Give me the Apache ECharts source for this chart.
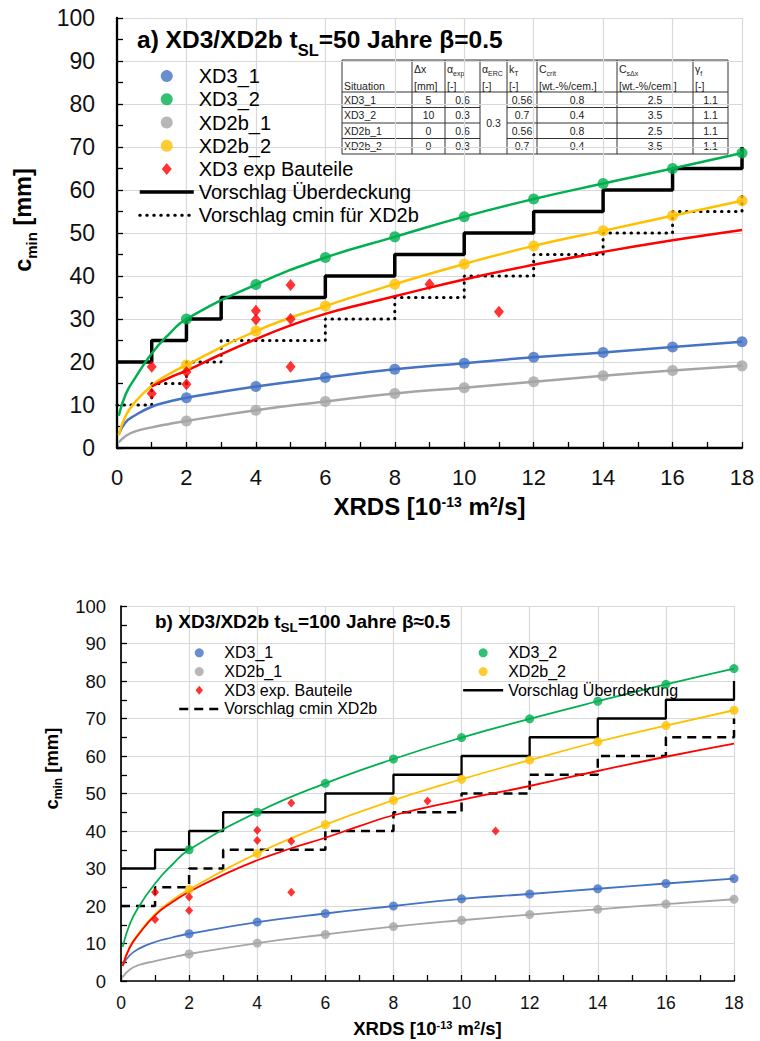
<!DOCTYPE html>
<html>
<head>
<meta charset="utf-8">
<script src="https://cdn.jsdelivr.net/npm/echarts@6/dist/echarts.min.js"></script>
<style>
html,body{margin:0;padding:0;background:#fff;}
#c{width:760px;height:1041px;}
</style>
</head>
<body>
<div id="c"></div>
<script>
// ---------------- DATA ----------------
// x positions of the plotted markers and of the curve support points
const markX  = [2, 4, 6, 8, 10, 12, 14, 16, 18];
const curveX = [0.05, 0.25, 0.5, 1, 1.5, 2, 4, 6, 8, 10, 12, 14, 16, 18];

// Panel a) t_SL = 50 Jahre
const a_XD3_1  = [11.7, 14.3, 16.4, 18.3, 19.7, 21.1, 22.2, 23.5, 24.7];
const a_XD3_2  = [30.0, 38.0, 44.3, 49.1, 53.8, 57.9, 61.5, 65.0, 68.6];
const a_XD2b_1 = [6.3, 8.8, 10.8, 12.7, 14.0, 15.4, 16.8, 18.0, 19.1];
const a_XD2b_2 = [19.3, 27.2, 33.0, 38.1, 42.8, 47.0, 50.5, 54.0, 57.5];
const a_XD3_1_curve  = [3.2, 6.0, 7.5, 9.6, 10.8, 11.7, 14.3, 16.4, 18.3, 19.7, 21.1, 22.2, 23.5, 24.7];
const a_XD3_2_curve  = [7.5, 12.5, 16.0, 22.0, 26.5, 30.0, 38.0, 44.3, 49.1, 53.8, 57.9, 61.5, 65.0, 68.6];
const a_XD2b_1_curve = [1.3, 2.8, 3.8, 4.8, 5.6, 6.3, 8.8, 10.8, 12.7, 14.0, 15.4, 16.8, 18.0, 19.1];
const a_XD2b_2_curve = [3.0, 7.5, 10.5, 14.5, 17.2, 19.3, 27.2, 33.0, 38.1, 42.8, 47.0, 50.5, 54.0, 57.5];
const a_fitX = [1, 1.5, 2, 3, 4, 5, 6, 7, 8, 10, 12, 14, 16, 18];
const a_fitY = [14.3, 16.3, 18.0, 21.8, 25.3, 28.5, 31.2, 33.3, 35.3, 39.2, 42.6, 45.6, 48.3, 50.7];
const a_expX = [1, 1, 2, 2, 4, 4, 5, 5, 5, 9, 11];
const a_expY = [18.9, 12.7, 17.7, 14.8, 31.9, 29.9, 37.9, 30.0, 18.9, 38.1, 31.7];
const stepX = [0, 1, 2, 3, 6, 8, 10, 12, 14, 16, 18];
const a_coverY = [20, 25, 30, 35, 40, 45, 50, 55, 60, 65, 70];
const a_cminY  = [10, 15, 20, 25, 30, 35, 40, 45, 50, 55, 60];

// Panel b) t_SL = 100 Jahre
const b_XD3_1  = [12.6, 15.7, 18.0, 20.0, 21.9, 23.2, 24.6, 26.0, 27.3];
const b_XD3_2  = [35.0, 45.0, 52.7, 59.2, 64.9, 69.9, 74.6, 79.1, 83.3];
const b_XD2b_1 = [7.2, 10.1, 12.4, 14.5, 16.2, 17.7, 19.1, 20.5, 21.8];
const b_XD2b_2 = [24.4, 34.0, 41.7, 48.2, 53.8, 58.9, 63.8, 68.1, 72.2];
const b_XD3_1_curve  = [4.2, 6.8, 8.5, 10.4, 11.6, 12.6, 15.7, 18.0, 20.0, 21.9, 23.2, 24.6, 26.0, 27.3];
const b_XD3_2_curve  = [9.1, 15.0, 19.5, 26.0, 31.0, 35.0, 45.0, 52.7, 59.2, 64.9, 69.9, 74.6, 79.1, 83.3];
const b_XD2b_1_curve = [1.0, 3.0, 4.2, 5.3, 6.3, 7.2, 10.1, 12.4, 14.5, 16.2, 17.7, 19.1, 20.5, 21.8];
const b_XD2b_2_curve = [4.2, 9.0, 12.5, 17.8, 21.5, 24.4, 34.0, 41.7, 48.2, 53.8, 58.9, 63.8, 68.1, 72.2];
const b_fitX = [0.05, 0.25, 0.5, 1, 1.5, 2, 3, 4, 5, 6, 7, 8, 10, 12, 14, 16, 18];
const b_fitY = [4.0, 8.8, 12.2, 17.5, 21.0, 23.8, 28.3, 32.2, 35.4, 38.2, 41.3, 44.2, 48.3, 52.0, 56.0, 59.8, 63.3];
const b_expX = [1, 1, 2, 2, 4, 4, 5, 5, 5, 9, 11];
const b_expY = [23.7, 16.4, 22.4, 18.8, 40.2, 37.5, 47.5, 37.3, 23.7, 48.0, 40.0];
const b_coverY = [30, 35, 40, 45, 50, 55, 60, 65, 70, 75, 80];
const b_cminY  = [20, 25, 30, 35, 40, 45, 50, 55, 60, 65, 70];

// Table in panel a)
const tblHead1 = [['', ''], ['Δx', ''], ['α', 'exp'], ['α', 'ERC'], ['k', 'T'], ['C', 'crit'], ['C', 'sΔx'], ['γ', 'f']];
const tblHead2 = ['Situation', '[mm]', '[-]', '[-]', '[-]', '[wt.-%/cem.]', '[wt.-%/cem.]', '[-]'];
const tblRows = [
  ['XD3_1',  '5',  '0.6', '0.56', '0.8', '2.5', '1.1'],
  ['XD3_2',  '10', '0.3', '0.7',  '0.4', '3.5', '1.1'],
  ['XD2b_1', '0',  '0.6', '0.56', '0.8', '2.5', '1.1'],
  ['XD2b_2', '0',  '0.3', '0.7',  '0.4', '3.5', '1.1']
];
const tblMerged = '0.3';

// ---------------- STYLE / BUILD ----------------
const FF = "'Liberation Sans', Arial, Helvetica, sans-serif";
const BLUE = '#4472C4', GREEN = '#00B050', GRAY = '#A5A5A5', YELLOW = '#FFC000', RED = '#FF0000';
const DIAMOND = 'path://M5 0 L10 6 L5 12 L0 6 Z';
const xy = (xs, ys) => xs.map((x, i) => [x, ys[i]]);

function curve(name, xs, ys, color, w, gi) {
  return { type: 'line', name: name, xAxisIndex: gi, yAxisIndex: gi, data: xy(xs, ys),
    smooth: 0.5, symbol: 'none', silent: true, z: 3,
    lineStyle: { color: color, width: w } };
}
function marks(name, ys, color, size, gi) {
  return { type: 'scatter', name: name, xAxisIndex: gi, yAxisIndex: gi, data: xy(markX, ys),
    symbol: 'circle', symbolSize: size, z: 4, itemStyle: { color: color } };
}
function diamonds(name, xs, ys, size, gi) {
  return { type: 'scatter', name: name, xAxisIndex: gi, yAxisIndex: gi, data: xy(xs, ys),
    symbol: DIAMOND, symbolSize: size, z: 5, itemStyle: { color: RED } };
}
function steps(name, ys, w, type, cap, gi) {
  return { type: 'line', name: name, xAxisIndex: gi, yAxisIndex: gi, data: xy(stepX, ys),
    step: 'end', symbol: 'none', z: 2, itemStyle: { color: 'rgba(0,0,0,0)' },
    lineStyle: { color: '#000', width: w, type: type, cap: cap } };
}

// subscript rich set: main tokens top-aligned, sub tokens bottom-aligned in a taller line
function richSub(main, sub, shift, weight, color) {
  const mainLH = Math.round(main * 1.2);
  const L = 0.6 * main + shift + 0.6 * sub;
  return {
    b: { fontSize: main, fontWeight: weight, fontFamily: FF, color: color || '#000', lineHeight: mainLH, verticalAlign: 'top' },
    s: { fontSize: sub, fontWeight: weight, fontFamily: FF, color: color || '#000', lineHeight: L, verticalAlign: 'bottom' }
  };
}
// superscript rich set (padding trick)
function richSup(main, sub, up, weight) {
  const lh = Math.round(main * 1.2);
  return {
    b: { fontSize: main, fontWeight: weight, fontFamily: FF, color: '#000', lineHeight: lh, verticalAlign: 'middle' },
    s: { fontSize: sub, fontWeight: weight, fontFamily: FF, color: '#000', lineHeight: lh, verticalAlign: 'middle', padding: [0, 0, 2 * up, 0] }
  };
}

function xAxisDef(gi, lblSize, margin, nameSize, nameGap, up, axW) {
  return {
    gridIndex: gi, type: 'value', min: 0, max: 18, interval: 2,
    axisLine: { show: true, onZero: false, lineStyle: { color: '#000', width: axW } },
    axisTick: { show: true, inside: true, length: 6, lineStyle: { color: '#000', width: 1.3 } },
    minorTick: { show: true, splitNumber: 2, length: 6, lineStyle: { color: '#000', width: 1.3 } },
    splitLine: { show: true, lineStyle: { color: '#d9d9d9', width: 1.2 } },
    axisLabel: { fontSize: lblSize, fontFamily: FF, color: '#111', margin: margin },
    name: '{b|XRDS [10}{s|-13}{b| m}{s|2}{b|/s]}',
    nameLocation: 'middle', nameGap: nameGap,
    nameTextStyle: { rich: richSup(nameSize, Math.round(nameSize * 0.6), up, 'bold') }
  };
}
function yAxisDef(gi, lblSize, margin, nameSize, nameGap, shift, subShift, axW) {
  return {
    gridIndex: gi, type: 'value', min: 0, max: 100, interval: 10,
    axisLine: { show: true, onZero: false, lineStyle: { color: '#000', width: axW } },
    axisTick: { show: true, inside: true, length: 6, lineStyle: { color: '#000', width: 1.3 } },
    minorTick: { show: true, splitNumber: 2, length: 6, lineStyle: { color: '#000', width: 1.3 } },
    splitLine: { show: true, lineStyle: { color: '#d9d9d9', width: 1.2 } },
    axisLabel: { fontSize: lblSize, fontFamily: FF, color: '#111', margin: margin },
    name: '{b|c}{s|min}{b| [mm]}',
    nameLocation: 'middle', nameRotate: 90, nameGap: nameGap,
    nameTextStyle: { padding: [0, 0, 0, shift], rich: richSub(nameSize, Math.round(nameSize * 0.65), subShift, 'bold') }
  };
}

// table graphic
function tableGraphic() {
  const TC = [342, 412, 445, 480, 507, 537, 617, 693, 728];
  const TR = [60, 92, 107.5, 123, 138.5, 154];
  const els = [];
  const lineC = '#333';
  els.push({ type: 'rect', shape: { x: TC[0], y: TR[0], width: TC[8] - TC[0], height: TR[5] - TR[0] },
    style: { fill: '#fff', stroke: lineC, lineWidth: 1 } });
  for (let i = 1; i < 8; i++) {
    els.push({ type: 'line', shape: { x1: TC[i], y1: TR[0], x2: TC[i], y2: TR[5] }, style: { stroke: lineC, lineWidth: 1 } });
  }
  els.push({ type: 'line', shape: { x1: TC[0], y1: TR[1], x2: TC[8], y2: TR[1] }, style: { stroke: lineC, lineWidth: 1 } });
  for (let r = 2; r <= 4; r++) {
    els.push({ type: 'line', shape: { x1: TC[0], y1: TR[r], x2: TC[3], y2: TR[r] }, style: { stroke: lineC, lineWidth: 1 } });
    els.push({ type: 'line', shape: { x1: TC[4], y1: TR[r], x2: TC[8], y2: TR[r] }, style: { stroke: lineC, lineWidth: 1 } });
  }
  const fs = 10.5;
  const r0 = richSub(fs, 7, 3, 'normal', '#222');
  const rich = { m: Object.assign({}, r0.b, { fill: '#222' }), s: Object.assign({}, r0.s, { fill: '#222' }) };
  tblHead1.forEach((h, i) => {
    if (!h[0]) return;
    const txt = h[1] ? '{m|' + h[0] + '}{s|' + h[1] + '}' : '{m|' + h[0] + '}';
    els.push({ type: 'text', x: TC[i] + 2, y: 70, style: { text: txt, rich: rich, align: 'left', verticalAlign: 'middle' } });
  });
  tblHead2.forEach((h, i) => {
    els.push({ type: 'text', x: TC[i] + 2, y: 85.5, style: { text: h, fontSize: fs, fontFamily: FF, fill: '#222', align: 'left', verticalAlign: 'middle' } });
  });
  const colMap = [0, 1, 2, 4, 5, 6, 7];
  tblRows.forEach((row, r) => {
    const yc = (TR[r + 1] + TR[r + 2]) / 2;
    row.forEach((v, k) => {
      const c = colMap[k];
      const left = c === 0;
      els.push({ type: 'text', x: left ? TC[0] + 2 : (TC[c] + TC[c + 1]) / 2, y: yc,
        style: { text: v, fontSize: fs, fontFamily: FF, fill: '#222', align: left ? 'left' : 'center', verticalAlign: 'middle' } });
    });
  });
  els.push({ type: 'text', x: (TC[3] + TC[4]) / 2, y: (TR[1] + TR[5]) / 2,
    style: { text: tblMerged, fontSize: fs, fontFamily: FF, fill: '#222', align: 'center', verticalAlign: 'middle' } });
  return { type: 'group', z: 100, children: els };
}

const series = [
  // panel a
  steps('Vorschlag Überdeckung', a_coverY, 3.5, 'solid', 'butt', 0),
  steps('Vorschlag cmin für XD2b', a_cminY, 3, [0.5, 6.5], 'round', 0),
  curve('a_fit_XD3_1', curveX, a_XD3_1_curve, BLUE, 2.5, 0),
  curve('a_fit_XD3_2', curveX, a_XD3_2_curve, GREEN, 2.5, 0),
  curve('a_fit_XD2b_1', curveX, a_XD2b_1_curve, GRAY, 2.5, 0),
  curve('a_fit_XD2b_2', curveX, a_XD2b_2_curve, YELLOW, 2.5, 0),
  curve('a_fit_exp', a_fitX, a_fitY, RED, 2.5, 0),
  marks('XD3_1', a_XD3_1, BLUE, 11, 0),
  marks('XD3_2', a_XD3_2, GREEN, 11, 0),
  marks('XD2b_1', a_XD2b_1, GRAY, 11, 0),
  marks('XD2b_2', a_XD2b_2, YELLOW, 11, 0),
  diamonds('XD3 exp Bauteile', a_expX, a_expY, [10, 12], 0),
  // panel b
  steps('Vorschlag Überdeckung', b_coverY, 2.3, 'solid', 'butt', 1),
  steps('Vorschlag cmin XD2b', b_cminY, 2.5, [9, 6], 'butt', 1),
  curve('b_fit_XD3_1', curveX, b_XD3_1_curve, BLUE, 1.8, 1),
  curve('b_fit_XD3_2', curveX, b_XD3_2_curve, GREEN, 1.8, 1),
  curve('b_fit_XD2b_1', curveX, b_XD2b_1_curve, GRAY, 1.8, 1),
  curve('b_fit_XD2b_2', curveX, b_XD2b_2_curve, YELLOW, 1.8, 1),
  curve('b_fit_exp', b_fitX, b_fitY, RED, 1.8, 1),
  marks('XD3_1', b_XD3_1, BLUE, 9, 1),
  marks('XD3_2', b_XD3_2, GREEN, 9, 1),
  marks('XD2b_1', b_XD2b_1, GRAY, 9, 1),
  marks('XD2b_2', b_XD2b_2, YELLOW, 9, 1),
  diamonds('XD3 exp. Bauteile', b_expX, b_expY, [8, 9], 1)
];

const option = {
  animation: false,
  backgroundColor: '#fff',
  title: [
    { left: 137, top: 27.3, padding: 0,
      text: '{b|a) XD3/XD2b t}{s|SL}{b|=50 Jahre β=0.5}',
      textStyle: { rich: richSub(24.5, 16.5, 6.5, 'bold') } },
    { left: 155, top: 611.6, padding: 0,
      text: '{b|b) XD3/XD2b t}{s|SL}{b|=100 Jahre β≈0.5}',
      textStyle: { rich: richSub(19, 13.5, 3.5, 'bold') } }
  ],
  grid: [
    { left: 117, top: 18, width: 625, height: 430, containLabel: false, outerBoundsMode: 'none' },
    { left: 121, top: 606, width: 613, height: 375, containLabel: false, outerBoundsMode: 'none' }
  ],
  xAxis: [ xAxisDef(0, 22, 18, 24, 44, 5, 2.3), xAxisDef(1, 17.5, 13, 18.5, 36.5, 4, 1.7) ],
  yAxis: [ yAxisDef(0, 23, 22, 23.5, 78, 26, 4, 2.3), yAxisDef(1, 18.5, 15, 18.5, 56, 50, 3, 1.7) ],
  legend: [
    { left: 138, top: 64.5, padding: 0, orient: 'vertical', itemGap: 0, itemWidth: 54, itemHeight: 12,
      selectedMode: false,
      textStyle: { fontSize: 20, fontFamily: FF, color: '#000', lineHeight: 23.2 },
      data: ['XD3_1', 'XD3_2', 'XD2b_1', 'XD2b_2', 'XD3 exp Bauteile',
             { name: 'Vorschlag Überdeckung', lineStyle: { width: 3.5 } },
             { name: 'Vorschlag cmin für XD2b', lineStyle: { width: 3 } }] },
    { left: 178, top: 643.5, padding: 0, orient: 'vertical', itemGap: 0, itemWidth: 40, itemHeight: 9,
      selectedMode: false,
      textStyle: { fontSize: 16, fontFamily: FF, color: '#000', lineHeight: 18.7 },
      data: ['XD3_1', 'XD2b_1', 'XD3 exp. Bauteile', { name: 'Vorschlag cmin XD2b', lineStyle: { width: 2.5 } }] },
    { left: 462, top: 643.5, padding: 0, orient: 'vertical', itemGap: 0, itemWidth: 40, itemHeight: 9,
      selectedMode: false,
      textStyle: { fontSize: 16, fontFamily: FF, color: '#000', lineHeight: 18.7 },
      data: ['XD3_2', 'XD2b_2', { name: 'Vorschlag Überdeckung', lineStyle: { width: 2.3 } }] }
  ],
  graphic: { elements: [ tableGraphic() ] },
  series: series
};

const chart = echarts.init(document.getElementById('c'), null, { renderer: 'svg', width: 760, height: 1041 });
chart.setOption(option);
</script>
</body>
</html>
